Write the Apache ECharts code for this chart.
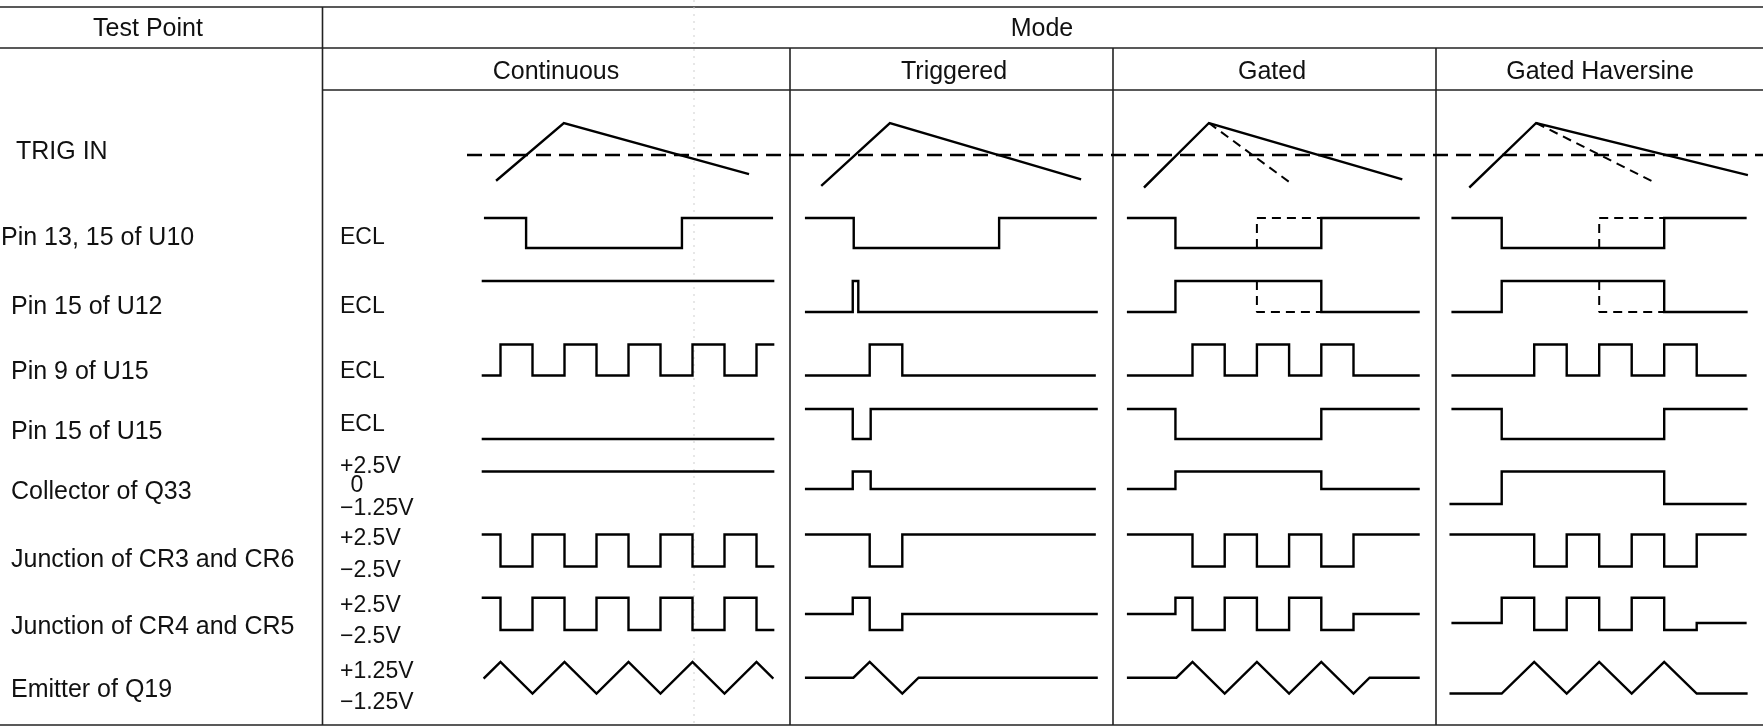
<!DOCTYPE html>
<html><head><meta charset="utf-8">
<script src="https://cdn.jsdelivr.net/npm/echarts@6/dist/echarts.min.js"></script>
<style>html,body{margin:0;padding:0;background:#fff}#c{width:1763px;height:728px}</style>
</head><body><div id="c"></div>
<script>
// ================= DATA =================
const headerTestPoint = 'Test Point';
const headerMode = 'Mode';
const modes = ['Continuous', 'Triggered', 'Gated', 'Gated Haversine'];
const testPoints = ['TRIG IN', 'Pin 13, 15 of U10', 'Pin 15 of U12', 'Pin 9 of U15', 'Pin 15 of U15',
  'Collector of Q33', 'Junction of CR3 and CR6', 'Junction of CR4 and CR5', 'Emitter of Q19'];
const levelLabels = [[], ['ECL'], ['ECL'], ['ECL'], ['ECL'], ['+2.5V', '0', '\u22121.25V'],
  ['+2.5V', '\u22122.5V'], ['+2.5V', '\u22122.5V'], ['+1.25V', '\u22121.25V']];

// waveforms: [time (oscillator half-periods), level]; one list per mode column
const trigThreshold = 0;
const trigIn = [
  [[-0.11, -0.78], [1.98, 1], [7.73, -0.59]],
  [[-1.46, -0.94], [0.62, 1], [6.45, -0.75]],
  [[-1.48, -0.99], [0.51, 1], [6.48, -0.75]],
  [[-1.97, -0.99], [0.06, 1], [6.54, -0.62]]
];
const trigInAlt = [null, null, [[0.51, 1], [3.04, -0.87]], [[0.06, 1], [3.73, -0.87]]];
const pin13U10 = [
  [[-0.48, 1], [0.8, 1], [0.8, 0], [5.67, 0], [5.67, 1], [8.48, 1]],
  [[-1.95, 1], [-0.49, 1], [-0.49, 0], [3.97, 0], [3.97, 1], [6.93, 1]],
  [[-2, 1], [-0.53, 1], [-0.53, 0], [4, 0], [4, 1], [7.02, 1]],
  [[-2.51, 1], [-1, 1], [-1, 0], [4, 0], [4, 1], [6.5, 1]]
];
const pin13U10Alt = [null, null, [[2, 0], [2, 1], [4, 1]], [[2, 0], [2, 1], [4, 1]]];
const pin15U12 = [
  [[-0.55, 1], [8.52, 1]],
  [[-1.95, 0], [-0.52, 0], [-0.52, 1], [-0.35, 1], [-0.35, 0], [6.96, 0]],
  [[-2, 0], [-0.53, 0], [-0.53, 1], [4, 1], [4, 0], [7.02, 0]],
  [[-2.51, 0], [-1, 0], [-1, 1], [4, 1], [4, 0], [6.53, 0]]
];
const pin15U12Alt = [null, null, [[2, 1], [2, 0], [4, 0]], [[2, 1], [2, 0], [4, 0]]];
const pin9U15 = [
  [[-0.55, 0], [0, 0], [0, 1], [1, 1], [1, 0], [2, 0], [2, 1], [3, 1], [3, 0], [4, 0], [4, 1], [5, 1], [5, 0], [6, 0], [6, 1], [7, 1], [7, 0], [8, 0], [8, 1], [8.52, 1]],
  [[-1.95, 0], [0, 0], [0, 1], [1, 1], [1, 0], [6.9, 0]],
  [[-2, 0], [0, 0], [0, 1], [1, 1], [1, 0], [2, 0], [2, 1], [3, 1], [3, 0], [4, 0], [4, 1], [5, 1], [5, 0], [7.02, 0]],
  [[-2.51, 0], [0, 0], [0, 1], [1, 1], [1, 0], [2, 0], [2, 1], [3, 1], [3, 0], [4, 0], [4, 1], [5, 1], [5, 0], [6.5, 0]]
];
const pin15U15 = [
  [[-0.55, 0], [8.52, 0]],
  [[-1.95, 1], [-0.52, 1], [-0.52, 0], [0.03, 0], [0.03, 1], [6.96, 1]],
  [[-2, 1], [-0.53, 1], [-0.53, 0], [4, 0], [4, 1], [7.02, 1]],
  [[-2.51, 1], [-1, 1], [-1, 0], [4, 0], [4, 1], [6.53, 1]]
];
const collectorQ33 = [
  [[-0.55, 2.5], [8.52, 2.5]],
  [[-1.95, 0], [-0.52, 0], [-0.52, 2.5], [0.03, 2.5], [0.03, 0], [6.9, 0]],
  [[-2, 0], [-0.53, 0], [-0.53, 2.5], [4, 2.5], [4, 0], [7.02, 0]],
  [[-2.57, -1.25], [-1, -1.25], [-1, 2.5], [4, 2.5], [4, -1.25], [6.5, -1.25]]
];
const cr3cr6 = [
  [[-0.55, 2.5], [0, 2.5], [0, -2.5], [1, -2.5], [1, 2.5], [2, 2.5], [2, -2.5], [3, -2.5], [3, 2.5], [4, 2.5], [4, -2.5], [5, -2.5], [5, 2.5], [6, 2.5], [6, -2.5], [7, -2.5], [7, 2.5], [8, 2.5], [8, -2.5], [8.52, -2.5]],
  [[-1.95, 2.5], [0, 2.5], [0, -2.5], [1, -2.5], [1, 2.5], [6.9, 2.5]],
  [[-2, 2.5], [0, 2.5], [0, -2.5], [1, -2.5], [1, 2.5], [2, 2.5], [2, -2.5], [3, -2.5], [3, 2.5], [4, 2.5], [4, -2.5], [5, -2.5], [5, 2.5], [7.02, 2.5]],
  [[-2.57, 2.5], [0, 2.5], [0, -2.5], [1, -2.5], [1, 2.5], [2, 2.5], [2, -2.5], [3, -2.5], [3, 2.5], [4, 2.5], [4, -2.5], [5, -2.5], [5, 2.5], [6.5, 2.5]]
];
const cr4cr5 = [
  [[-0.55, 2.5], [0, 2.5], [0, -2.5], [1, -2.5], [1, 2.5], [2, 2.5], [2, -2.5], [3, -2.5], [3, 2.5], [4, 2.5], [4, -2.5], [5, -2.5], [5, 2.5], [6, 2.5], [6, -2.5], [7, -2.5], [7, 2.5], [8, 2.5], [8, -2.5], [8.52, -2.5]],
  [[-1.95, 0], [-0.52, 0], [-0.52, 2.5], [0, 2.5], [0, -2.5], [1, -2.5], [1, 0], [6.96, 0]],
  [[-2, 0], [-0.53, 0], [-0.53, 2.5], [0, 2.5], [0, -2.5], [1, -2.5], [1, 2.5], [2, 2.5], [2, -2.5], [3, -2.5], [3, 2.5], [4, 2.5], [4, -2.5], [5, -2.5], [5, 0], [7.02, 0]],
  [[-2.51, -1.4], [-1, -1.4], [-1, 2.5], [0, 2.5], [0, -2.5], [1, -2.5], [1, 2.5], [2, 2.5], [2, -2.5], [3, -2.5], [3, 2.5], [4, 2.5], [4, -2.5], [5, -2.5], [5, -1.4], [6.5, -1.4]]
];
const emitterQ19 = [
  [[-0.5, 0], [0, 1.25], [1, -1.25], [2, 1.25], [3, -1.25], [4, 1.25], [5, -1.25], [6, 1.25], [7, -1.25], [8, 1.25], [8.5, 0]],
  [[-1.95, 0], [-0.5, 0], [0, 1.25], [1, -1.25], [1.5, 0], [6.96, 0]],
  [[-2, 0], [-0.5, 0], [0, 1.25], [1, -1.25], [2, 1.25], [3, -1.25], [4, 1.25], [5, -1.25], [5.5, 0], [7.02, 0]],
  [[-2.57, -1.25], [-1, -1.25], [0, 1.25], [1, -1.25], [2, 1.25], [3, -1.25], [4, 1.25], [5, -1.25], [6.53, -1.25]]
];

// ================= LAYOUT =================
const W = 1763, H = 728;
const FONT = '25px "Liberation Sans", Arial, sans-serif';
const FONT_SMALL = '23px "Liberation Sans", Arial, sans-serif';
const INK = '#000';
// t=0 pixel, pixels per half-period, visible time range of each column's axis
const colLayout = [
  {x0: 500.5, s: 32.0, tMin: -1, tMax: 9},
  {x0: 869.7, s: 32.6, tMin: -2.5, tMax: 7.5},
  {x0: 1192.5, s: 32.2, tMin: -2.5, tMax: 7.5},
  {x0: 1534.2, s: 32.5, tMin: -3, tMax: 7}
];
// per-row calibration: [level, pixel y]
const rowCal = [
  [[0, 155], [1, 123]],
  [[0, 248], [1, 218]],
  [[0, 312], [1, 281]],
  [[0, 375.5], [1, 344.5]],
  [[0, 439], [1, 409]],
  [[-1.25, 504], [0, 489], [2.5, 471.5]],
  [[-2.5, 566.5], [2.5, 534.5]],
  [[-2.5, 630], [0, 614], [2.5, 597.7]],
  [[-1.25, 693.5], [0, 677.7], [1.25, 662]]
];
function yOf(r, v) {
  const c = rowCal[r];
  let i = 0;
  while (i < c.length - 2 && v > c[i + 1][0]) i++;
  const [v0, y0] = c[i], [v1, y1] = c[i + 1];
  return y0 + (v - v0) * (y1 - y0) / (v1 - v0);
}
const rowLabelX = [16, 1, 11, 11, 11, 11, 11, 11, 11];
const rowLabelY = [152, 238, 307, 372, 432, 492, 560, 627, 690];
const levelLabelY = [[], [238], [307], [372], [425], [467, 486, 509], [539, 571], [606, 637], [672, 703]];
const levelLabelX = 340;
const modeCenters = [556, 954, 1272, 1600];
const hLines = [ [0, W, 7], [0, W, 48], [322, W, 90], [0, W, 725] ];
const vLines = [ [322.5, 7, 725], [790, 48, 725], [1113, 48, 725], [1436, 48, 725] ];

// ================= BUILD =================
const signals = [trigIn, pin13U10, pin15U12, pin9U15, pin15U15, collectorQ33, cr3cr6, cr4cr5, emitterQ19];
const alternates = [trigInAlt, pin13U10Alt, pin15U12Alt];

const grid = [], xAxis = [], yAxis = [], series = [];
colLayout.forEach((cl, c) => {
  grid.push({left: cl.x0 + cl.tMin * cl.s, width: (cl.tMax - cl.tMin) * cl.s, top: 0, height: H, containLabel: false});
  xAxis.push({type: 'value', gridIndex: c, min: cl.tMin, max: cl.tMax, show: false});
  yAxis.push({type: 'value', gridIndex: c, min: 0, max: H, inverse: true, show: false});
});
// threshold grid spanning the Mode area
grid.push({left: 467, right: 0, top: 0, height: H});
xAxis.push({type: 'value', gridIndex: 4, min: 0, max: 1, show: false});
yAxis.push({type: 'value', gridIndex: 4, min: 0, max: H, inverse: true, show: false});
series.push({type: 'line', xAxisIndex: 4, yAxisIndex: 4, symbol: 'none', clip: false, silent: true,
  data: [[0, yOf(0, trigThreshold)], [1, yOf(0, trigThreshold)]],
  lineStyle: {color: INK, width: 2.6, type: [15, 8]}});

signals.forEach((sig, r) => {
  sig.forEach((pts, c) => {
    series.push({type: 'line', xAxisIndex: c, yAxisIndex: c, symbol: 'none', clip: false, silent: true,
      data: pts.map(([t, v]) => [t, yOf(r, v)]),
      lineStyle: {color: INK, width: 2.4, cap: 'square', join: 'miter'}});
  });
});
alternates.forEach((alt, r) => {
  alt.forEach((pts, c) => {
    if (!pts) return;
    series.push({type: 'line', xAxisIndex: c, yAxisIndex: c, symbol: 'none', clip: false, silent: true,
      data: pts.map(([t, v]) => [t, yOf(r, v)]),
      lineStyle: {color: INK, width: 2, type: [9, 6]}});
  });
});

const graphic = [];
function txt(x, y, s, align, font) {
  graphic.push({type: 'text', x: x, y: y, silent: true,
    style: {text: s, font: font || FONT, fill: '#111', align: align, verticalAlign: 'middle',
      textAlign: align, textVerticalAlign: 'middle'}});
}
hLines.forEach(([x1, x2, y]) => graphic.push({type: 'line', silent: true,
  shape: {x1: x1, y1: y, x2: x2, y2: y}, style: {stroke: '#222', lineWidth: 1.6}}));
vLines.forEach(([x, y1, y2]) => graphic.push({type: 'line', silent: true,
  shape: {x1: x, y1: y1, x2: x, y2: y2}, style: {stroke: '#222', lineWidth: 1.6}}));
// faint scan line
graphic.push({type: 'line', silent: true, shape: {x1: 694, y1: 0, x2: 694, y2: H},
  style: {stroke: '#cfcfcf', lineWidth: 1, lineDash: [2, 5]}});

txt(148, 29, headerTestPoint, 'center');
txt(1042, 29, headerMode, 'center');
modes.forEach((m, i) => txt(modeCenters[i], 72, m, 'center'));
testPoints.forEach((t, i) => txt(rowLabelX[i], rowLabelY[i], t, 'left'));
levelLabels.forEach((labs, r) => labs.forEach((l, k) => {
  if (l === '0') txt(357, levelLabelY[r][k], l, 'center', FONT_SMALL);
  else txt(levelLabelX, levelLabelY[r][k], l, 'left', FONT_SMALL);
}));

const chart = echarts.init(document.getElementById('c'), null, {renderer: 'canvas'});
chart.setOption({animation: false, backgroundColor: '#fff', grid, xAxis, yAxis, series, graphic});
</script></body></html>
